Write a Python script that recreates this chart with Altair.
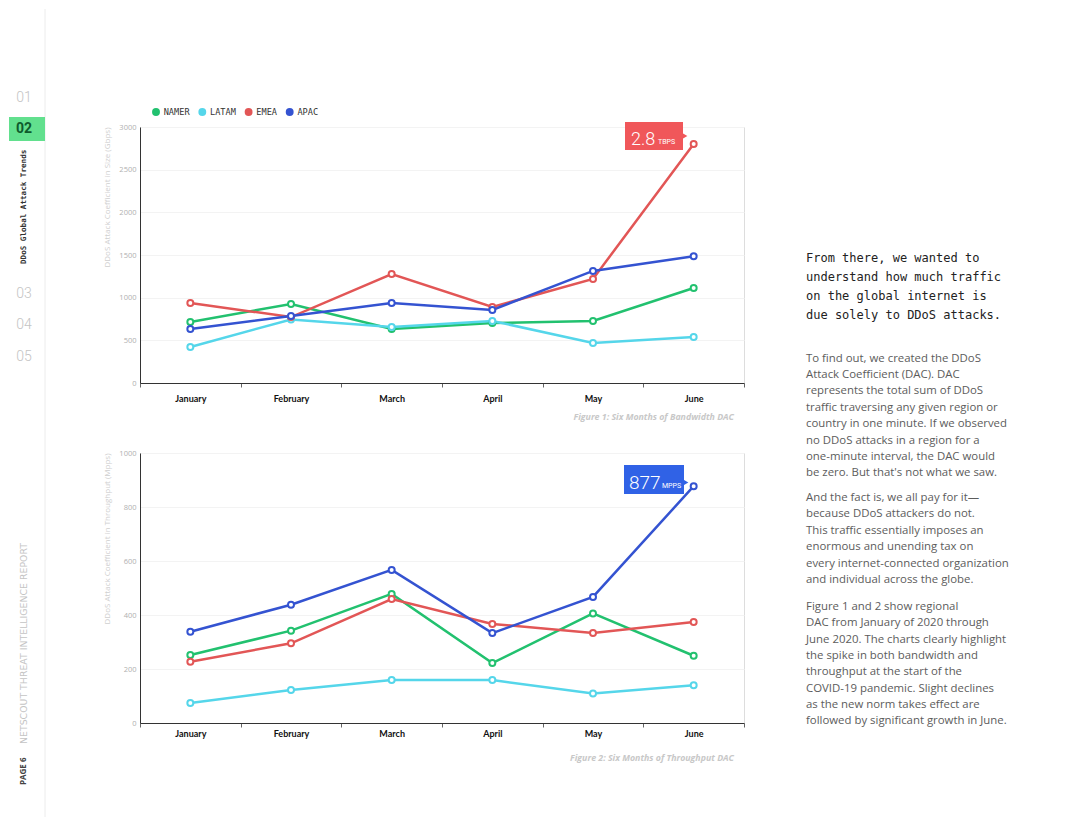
import altair as alt
import pandas as pd

months = ["January", "February", "March", "April", "May", "June"]
regions = ["NAMER", "LATAM", "EMEA", "APAC"]
colors = ["#22c16f", "#55d6ea", "#e25656", "#3453d1"]

# Figure 1: bandwidth DAC (Gbps)
bw_namer = [715, 926, 633, 703, 727, 1113]
bw_latam = [422, 745, 656, 727, 470, 539]
bw_emea = [938, 773, 1277, 891, 1220, 2800]
bw_apac = [633, 785, 938, 855, 1313, 1485]

# Figure 2: throughput DAC (Mpps)
tp_namer = [252, 342, 478, 222, 406, 249]
tp_latam = [74, 122, 159, 159, 109, 140]
tp_emea = [227, 295, 459, 367, 333, 374]
tp_apac = [338, 438, 567, 333, 467, 877]

heading_lines = ["From there, we wanted to", "understand how much traffic",
                 "on the global internet is", "due solely to DDoS attacks."]
para1 = ["To find out, we created the DDoS", "Attack Coefficient (DAC). DAC",
         "represents the total sum of DDoS", "traffic traversing any given region or",
         "country in one minute. If we observed", "no DDoS attacks in a region for a",
         "one-minute interval, the DAC would", "be zero. But that's not what we saw."]
para2 = ["And the fact is, we all pay for it\u2014", "because DDoS attackers do not.",
         "This traffic essentially imposes an", "enormous and unending tax on",
         "every internet-connected organization", "and individual across the globe."]
para3 = ["Figure 1 and 2 show regional", "DAC from January of 2020 through",
         "June 2020. The charts clearly highlight", "the spike in both bandwidth and",
         "throughput at the start of the", "COVID-19 pandemic. Slight declines",
         "as the new norm takes effect are", "followed by significant growth in June."]


def long_df(series):
    rows = []
    for reg, vals in zip(regions, series):
        for i, (m, v) in enumerate(zip(months, vals)):
            rows.append({"region": reg, "month": m, "idx": i, "value": v})
    return pd.DataFrame(rows)


bw_df = long_df([bw_namer, bw_latam, bw_emea, bw_apac])
tp_df = long_df([tp_namer, tp_latam, tp_emea, tp_apac])
dummy = pd.DataFrame({"k": [0]})

MONO = "DejaVu Sans Mono"
BODY = "Open Sans"
COND = "Roboto"

# legend layout (horizontal row of dot + label, monospace labels)
LEG_CHAR = 5.2
leg_rows = []
cx = 16.0
for reg in regions:
    leg_rows.append({"region": reg, "cx": cx, "tx": cx + 7.7})
    cx += 20.3 + LEG_CHAR * len(reg)
leg_df = pd.DataFrame(leg_rows)
color_scale = alt.Scale(domain=regions, range=colors)


def txt(text, x, y, **kw):
    return alt.Chart(dummy).mark_text(**kw).encode(
        x=alt.value(x), y=alt.value(y), text=alt.value(text))


def chart_layers(df, ymax, step, ytitle, label_pad):
    x = alt.X("month:N", sort=months,
              scale=alt.Scale(type="band", paddingInner=0, paddingOuter=0),
              axis=alt.Axis(title=None, tickBand="extent", grid=False, labelAngle=0,
                            labelFont="Lato", labelFontWeight="bold", labelFontSize=9,
                            labelColor="#111", labelPadding=label_pad, tickSize=4,
                            tickColor="#666", domainColor="#333"))
    y = alt.Y("value:Q", scale=alt.Scale(domain=[0, ymax], nice=False),
              axis=alt.Axis(title=ytitle, values=list(range(0, ymax + 1, step)),
                            format="d", ticks=False, labelFont=BODY, labelFontSize=7.5,
                            labelColor="#b0b0b0", labelPadding=4,
                            titleFont=BODY, titleFontSize=8, titleColor="#cfcfcf",
                            titleFontWeight="normal", titleAnchor="end", titlePadding=7,
                            gridColor="#f3f3f3", domainColor="#333"))
    stroke = alt.Stroke("region:N", scale=color_scale, legend=None)
    line = alt.Chart(df).mark_line(strokeWidth=2.5).encode(
        x=x, y=y, stroke=stroke, order="idx:Q")
    pts = alt.Chart(df).mark_point(shape="circle", filled=True, fill="white",
                                   strokeWidth=2, size=36, opacity=1).encode(
        x=x, y=y, stroke=stroke)
    return x, y, line, pts


# ---------- top chart ----------
x1, y1, line1, pts1 = chart_layers(bw_df, 3000, 500,
                                   "DDoS Attack Coefficient in Size (Gbps)", 7.5)
legend_dots = alt.Chart(leg_df).mark_circle(size=62, opacity=1).encode(
    x=alt.X("cx:Q", scale=None), y=alt.value(-15),
    fill=alt.Fill("region:N", scale=color_scale, legend=None))
legend_text = alt.Chart(leg_df).mark_text(font=MONO, fontSize=8.6, color="#333",
                                          align="left", baseline="middle").encode(
    x=alt.X("tx:Q", scale=None), y=alt.value(-15), text="region:N")

top_deco = [
    # sidebar
    alt.Chart(dummy).mark_rule(color="#ececec", strokeWidth=1).encode(
        x=alt.value(-95), y=alt.value(-118), y2=alt.value(690)),
    alt.Chart(dummy).mark_rect(color="#62e08e").encode(
        x=alt.value(-131), x2=alt.value(-95), y=alt.value(-10), y2=alt.value(14)),
    txt("01", -116, -29, font=COND, fontSize=14, fontWeight=300, color="#c4c4c4",
        baseline="middle"),
    txt("02", -116, 2, font=COND, fontSize=14, fontWeight="bold", color="#0e5a2c",
        baseline="middle"),
    txt("DDoS Global Attack Trends", -116, 137, font=MONO, fontSize=7.6,
        fontWeight="bold", color="#333", angle=270, align="left", baseline="middle"),
    txt("03", -116, 167, font=COND, fontSize=14, fontWeight=300, color="#c4c4c4",
        baseline="middle"),
    txt("04", -116, 198, font=COND, fontSize=14, fontWeight=300, color="#c4c4c4",
        baseline="middle"),
    txt("05", -116, 230, font=COND, fontSize=14, fontWeight=300, color="#c4c4c4",
        baseline="middle"),
    txt("NETSCOUT THREAT INTELLIGENCE REPORT", -116, 617, font="DejaVu Sans",
        fontSize=9.4, color="#c4c4c4", angle=270, align="left", baseline="middle"),
    txt("PAGE 6", -116, 658, font=BODY, fontSize=8, fontWeight="bold", color="#444",
        angle=270, align="left", baseline="middle"),
    # annotation box
    alt.Chart(dummy).mark_rect(color="#f0575a").encode(
        x=alt.value(485), x2=alt.value(543), y=alt.value(-5), y2=alt.value(23)),
    alt.Chart(dummy).mark_point(shape="triangle-right", filled=True, color="#f0575a",
                                size=30, opacity=1).encode(
        x=alt.value(545), y=alt.value(9)),
    txt("2.8", 491, 17.5, font=COND, fontSize=18, fontWeight=300, color="white",
        align="left", baseline="alphabetic"),
    txt("TBPS", 518, 16.5, font=COND, fontSize=7, color="white", align="left",
        baseline="alphabetic"),
    # caption
    txt("Figure 1: Six Months of Bandwidth DAC", 594, 290, font=BODY, fontSize=8.8,
        fontStyle="italic", fontWeight="bold", color="#c8c8c8", align="right",
        baseline="middle"),
    # right text column
    alt.Chart(dummy).mark_text(font=MONO, fontSize=12, color="#222", align="left",
                               baseline="alphabetic", lineHeight=19).encode(
        x=alt.value(666), y=alt.value(134.5), text=alt.value(heading_lines)),
    alt.Chart(dummy).mark_text(font=BODY, fontSize=11.4, color="#5c5c5c", align="left",
                               baseline="alphabetic", lineHeight=16.4).encode(
        x=alt.value(666), y=alt.value(234.5), text=alt.value(para1)),
    alt.Chart(dummy).mark_text(font=BODY, fontSize=11.4, color="#5c5c5c", align="left",
                               baseline="alphabetic", lineHeight=16.5).encode(
        x=alt.value(666), y=alt.value(373.5), text=alt.value(para2)),
    alt.Chart(dummy).mark_text(font=BODY, fontSize=11.4, color="#5c5c5c", align="left",
                               baseline="alphabetic", lineHeight=16.3).encode(
        x=alt.value(666), y=alt.value(483), text=alt.value(para3)),
]

top = alt.layer(line1, pts1, legend_dots, legend_text, *top_deco).properties(
    width=604, height=256)

# ---------- bottom chart ----------
x2, y2, line2, pts2 = chart_layers(tp_df, 1000, 200,
                                   "DDoS Attack Coefficient in Throughput (Mpps)", 2.5)
bottom_deco = [
    alt.Chart(dummy).mark_rect(color="#3062e6").encode(
        x=alt.value(484), x2=alt.value(544), y=alt.value(12), y2=alt.value(41)),
    alt.Chart(dummy).mark_point(shape="triangle-right", filled=True, color="#3062e6",
                                size=30, opacity=1).encode(
        x=alt.value(546), y=alt.value(29.5)),
    txt("877", 489, 35.5, font=COND, fontSize=19, fontWeight=300, color="white",
        align="left", baseline="alphabetic"),
    txt("MPPS", 522, 34.5, font=COND, fontSize=7, color="white", align="left",
        baseline="alphabetic"),
    txt("Figure 2: Six Months of Throughput DAC", 594, 305, font=BODY, fontSize=8.8,
        fontStyle="italic", fontWeight="bold", color="#c8c8c8", align="right",
        baseline="middle"),
]
bottom = alt.layer(line2, pts2, *bottom_deco).properties(width=604, height=270)

chart = alt.vconcat(top, bottom, spacing=70, bounds="flush", padding=0).configure_view(
    stroke=None).configure(background="white")

chart.save("out.html", embed_options={"renderer": "svg", "actions": False})
